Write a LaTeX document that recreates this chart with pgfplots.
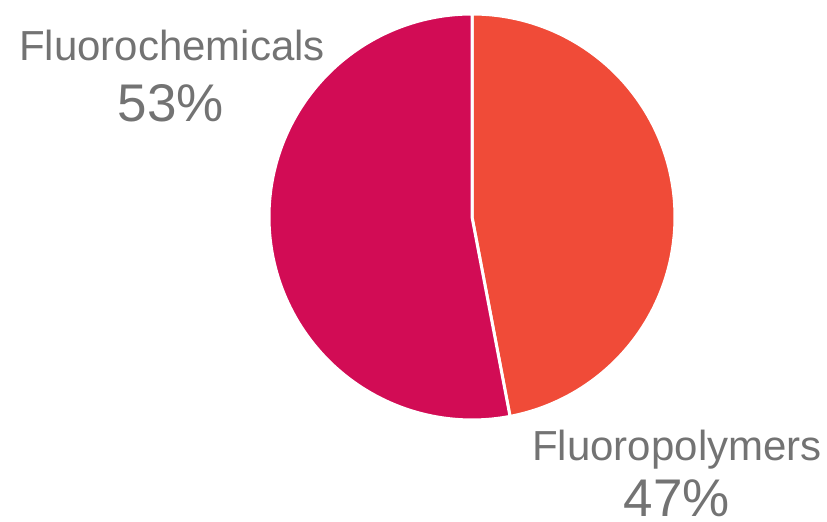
\documentclass[border=0pt]{standalone}
\usepackage{fontspec}
\setmainfont{Liberation Sans}
\usepackage{pgfplots}
\pgfplotsset{compat=1.18}
\usepackage{pgfplotstable}

\definecolor{chemcol}{HTML}{D20C55}
\definecolor{polycol}{HTML}{F04B38}
\definecolor{labelgray}{HTML}{737373}

% share of each segment, in percent
\pgfplotstableread{
segment value
Fluoropolymers 47
Fluorochemicals 53
}\sharetable
\pgfplotstablegetelem{0}{value}\of\sharetable \let\valPoly\pgfplotsretval
\pgfplotstablegetelem{1}{value}\of\sharetable \let\valChem\pgfplotsretval

% slices run clockwise from twelve o'clock
\pgfmathsetmacro{\angStart}{90}
\pgfmathsetmacro{\angMid}{90-3.6*\valPoly}
\pgfmathsetmacro{\angEnd}{\angMid-3.6*\valChem}

\def\cx{472}
\def\cy{305}
\def\rad{203}

\begin{document}
\begin{tikzpicture}
\begin{axis}[
  x=0.5pt, y=0.5pt,
  xmin=0, xmax=827, ymin=0, ymax=522,
  hide axis, clip=false,
]
\path (axis cs:0,0) rectangle (axis cs:827,522);

\addplot[fill=polycol, draw=white, line width=1.5pt, line join=round,
  domain=\angStart:\angMid, samples=150, variable=\t]
  ({\cx+\rad*cos(\t)}, {\cy+\rad*sin(\t)}) -- (axis cs:\cx,\cy) -- cycle;

\addplot[fill=chemcol, draw=white, line width=1.5pt, line join=round,
  domain=\angMid:\angEnd, samples=150, variable=\t]
  ({\cx+\rad*cos(\t)}, {\cy+\rad*sin(\t)}) -- (axis cs:\cx,\cy) -- cycle;

\node[anchor=base, text=labelgray, font=\fontsize{21}{25}\selectfont, inner sep=0pt]
  at (axis cs:172,461) {Fluorochemicals};
\node[anchor=base, text=labelgray, font=\fontsize{26.5}{30}\selectfont, inner sep=0pt]
  at (axis cs:171,400) {\valChem\%};
\node[anchor=base, text=labelgray, font=\fontsize{21}{25}\selectfont, inner sep=0pt]
  at (axis cs:677,61) {Fluoropolymers};
\node[anchor=base, text=labelgray, font=\fontsize{26.5}{30}\selectfont, inner sep=0pt]
  at (axis cs:677,5) {\valPoly\%};
\end{axis}
\end{tikzpicture}
\end{document}
